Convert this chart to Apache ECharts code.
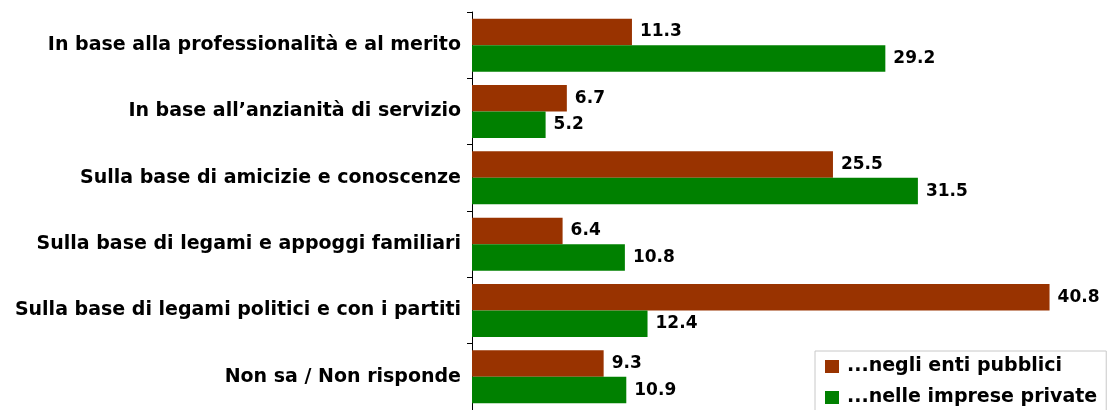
<!DOCTYPE html>
<html>
<head>
<meta charset="utf-8">
<script src="https://cdn.jsdelivr.net/npm/echarts@6/dist/echarts.min.js"></script>
<style>
  html, body { margin: 0; padding: 0; background: #fff; }
  #chart { width: 1109px; height: 410px; }
</style>
</head>
<body>
<div id="chart"></div>
<script>
var categories = [
  'In base alla professionalità e al merito',
  'In base all\u2019anzianità di servizio',
  'Sulla base di amicizie e conoscenze',
  'Sulla base di legami e appoggi familiari',
  'Sulla base di legami politici e con i partiti',
  'Non sa / Non risponde'
]
var pubblici = [11.3, 6.7, 25.5, 6.4, 40.8, 9.3]
var private_ = [29.2, 5.2, 31.5, 10.8, 12.4, 10.9]

var font = 'DejaVu Sans, Arial, sans-serif'
var myChart = echarts.init(document.getElementById('chart'))

var labelOption = {
  show: true,
  position: 'right',
  distance: 8,
  color: '#000',
  fontWeight: 'bold',
  fontSize: 17,
  fontFamily: font,
  formatter: function (p) { return p.value.toFixed(1) }
}

var option = {
  animation: false,
  grid: {
    left: 472,
    top: 12,
    width: 637,
    height: 399
  },
  legend: {
    orient: 'vertical',
    left: 815,
    top: 351,
    height: 120,
    padding: [6, 9, 20, 10],
    itemGap: 12,
    itemWidth: 14,
    itemHeight: 13,
    borderColor: '#c8c8c8',
    borderWidth: 1,
    icon: 'rect',
    textStyle: { fontFamily: font, fontWeight: 'bold', fontSize: 19, color: '#000', padding: [0, 0, 0, 3] },
    data: ['...negli enti pubblici', '...nelle imprese private']
  },
  xAxis: {
    type: 'value',
    min: 0,
    max: 45,
    show: false
  },
  yAxis: {
    type: 'category',
    inverse: true,
    data: categories,
    axisLine: { lineStyle: { color: '#000', width: 1 } },
    axisTick: { show: true, length: 5, lineStyle: { color: '#000' } },
    axisLabel: {
      margin: 11,
      color: '#000',
      fontWeight: 'bold',
      fontSize: 19,
      fontFamily: font,
      padding: [3, 0, 0, 0]
    },
    splitLine: { show: false }
  },
  series: [
    {
      name: '...negli enti pubblici',
      type: 'bar',
      barGap: 0,
      barCategoryGap: '20%',
      itemStyle: { color: '#993300' },
      label: labelOption,
      data: pubblici
    },
    {
      name: '...nelle imprese private',
      type: 'bar',
      itemStyle: { color: '#008000' },
      label: labelOption,
      data: private_
    }
  ]
}
myChart.setOption(option)
</script>
</body>
</html>
